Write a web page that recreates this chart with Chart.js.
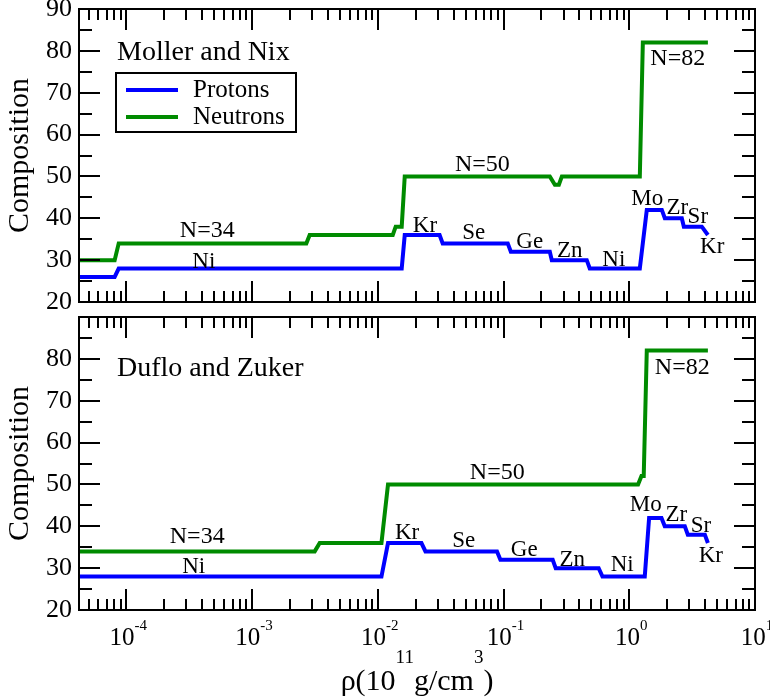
<!DOCTYPE html>
<html>
<head>
<meta charset="utf-8">
<script src="https://cdn.jsdelivr.net/npm/chart.js@4"></script>
<style>
  body { margin: 0; background: #fff; }
  #wrap { position: relative; width: 770px; height: 700px; }
  canvas { position: absolute; left: 0; }
  #topChart { top: 0; }
  #bottomChart { top: 310px; }
</style>
</head>
<body>
<div id="wrap">
  <canvas id="topChart" width="770" height="330"></canvas>
  <canvas id="bottomChart" width="770" height="390"></canvas>
</div>
<script>
const FONT = "'Liberation Serif', 'Times New Roman', serif";
const BLUE = "#0000ff";
const GREEN = "#008b00";

Chart.defaults.font.family = FONT;
Chart.defaults.color = "#000";

const xMin = 4.2e-5;
const xMax = 10;
const xExponents = ["-4", "-3", "-2", "-1", "0", "1"];

// Moller and Nix (top panel)
const mnProtonRho = [4.2e-5, 8.07e-5, 8.69e-5, 0.01549, 0.01637, 0.031, 0.0328, 0.108, 0.1143, 0.2333, 0.242, 0.459, 0.485, 1.213, 1.378, 1.815, 1.918, 2.618, 2.716, 3.776, 4.22];
const mnProtonZ = [26, 26, 28, 28, 36, 36, 34, 34, 32, 32, 30, 30, 28, 28, 42, 42, 40, 40, 38, 38, 36];
const mnNeutronRho = [4.2e-5, 8.07e-5, 8.69e-5, 0.0027, 0.00287, 0.01315, 0.01387, 0.01549, 0.01637, 0.2333, 0.256, 0.2754, 0.291, 1.213, 1.282, 4.22];
const mnNeutronN = [30, 30, 34, 34, 36, 36, 38, 38, 50, 50, 48, 48, 50, 50, 82, 82];

// Duflo and Zuker (bottom panel)
const dzProtonRho = [4.2e-5, 0.01069, 0.01205, 0.02223, 0.02393, 0.0887, 0.0944, 0.246, 0.26, 0.571, 0.612, 1.328, 1.438, 1.804, 1.916, 2.765, 2.923, 3.99, 4.22];
const dzProtonZ = [28, 28, 36, 36, 34, 34, 32, 32, 30, 30, 28, 28, 42, 42, 40, 40, 38, 38, 36];
const dzNeutronRho = [4.2e-5, 0.003148, 0.00345, 0.01069, 0.01205, 1.175, 1.25, 1.303, 1.378, 4.22];
const dzNeutronN = [34, 34, 36, 36, 50, 50, 52, 52, 82, 82];

// text notes: [text, rho, composition]
const mnNotes = [
  ["N=34", 4.4e-4, 37], ["Ni", 4.13e-4, 29.6], ["N=50", 0.0678, 52.7],
  ["Kr", 0.0237, 38.2], ["Se", 0.058, 36.5], ["Ge", 0.1614, 34.3],
  ["Zn", 0.336, 32.1], ["Ni", 0.753, 30], ["Mo", 1.39, 44.6],
  ["Zr", 2.41, 42.5], ["Sr", 3.51, 40.3], ["Kr", 4.57, 33.1], ["N=82", 2.43, 78.2]
];
const dzNotes = [
  ["N=34", 3.66e-4, 37.5], ["Ni", 3.43e-4, 30.3], ["N=50", 0.0891, 52.9],
  ["Kr", 0.0171, 38.5], ["Se", 0.0482, 36.4], ["Ge", 0.146, 34.4],
  ["Zn", 0.352, 32], ["Ni", 0.879, 30.7], ["Mo", 1.35, 45.1],
  ["Zr", 2.37, 42.7], ["Sr", 3.71, 40], ["Kr", 4.45, 32.8], ["N=82", 2.64, 77.8]
];

function toPoints(xs, ys) {
  return xs.map((x, i) => ({ x, y: ys[i] }));
}

function drawFrame(chart) {
  const { ctx, chartArea: a } = chart;
  const xs = chart.scales.x;
  const ys = chart.scales.y;
  ctx.save();
  ctx.strokeStyle = "#000";
  ctx.lineWidth = 2;
  ctx.strokeRect(a.left, a.top, a.right - a.left, a.bottom - a.top);
  ctx.beginPath();
  for (let e = -5; e <= 1; e++) {
    for (let m = 1; m <= 9; m++) {
      const v = m * Math.pow(10, e);
      if (v <= xMin || v >= xMax) continue;
      const px = Math.round(xs.getPixelForValue(v));
      const len = m === 1 ? 21 : 11;
      ctx.moveTo(px, a.bottom);
      ctx.lineTo(px, a.bottom - len);
      ctx.moveTo(px, a.top);
      ctx.lineTo(px, a.top + len);
    }
  }
  for (let v = 25; v < 90; v += 5) {
    const py = Math.round(ys.getPixelForValue(v));
    const len = v % 10 === 0 ? 21 : 13;
    ctx.moveTo(a.left, py);
    ctx.lineTo(a.left + len, py);
    ctx.moveTo(a.right, py);
    ctx.lineTo(a.right - len, py);
  }
  ctx.stroke();
  ctx.restore();
}

function drawNotes(chart, notes) {
  const { ctx } = chart;
  ctx.save();
  ctx.fillStyle = "#000";
  ctx.textAlign = "center";
  ctx.textBaseline = "middle";
  notes.forEach(([t, rx, ry]) => {
    ctx.font = (t.startsWith("N=") ? 24 : 23) + "px " + FONT;
    ctx.fillText(t, chart.scales.x.getPixelForValue(rx), chart.scales.y.getPixelForValue(ry));
  });
  ctx.restore();
}

// text pieces laid out left to right, centred on cx; each piece has its own baseline y
function drawPieces(ctx, pieces, cx) {
  let total = 0;
  const widths = pieces.map((p) => {
    ctx.font = p.size + "px " + FONT;
    const w = ctx.measureText(p.text).width;
    total += w;
    return w;
  });
  let x = cx - total / 2;
  ctx.textAlign = "left";
  ctx.textBaseline = "alphabetic";
  pieces.forEach((p, i) => {
    ctx.font = p.size + "px " + FONT;
    ctx.fillText(p.text, x, p.y);
    x += widths[i];
  });
}

function makePanel(canvasId, cfg) {
  const panelPlugin = {
    id: "panel_" + canvasId,
    afterDraw(chart) {
      const { ctx, chartArea: a } = chart;
      drawFrame(chart);
      drawNotes(chart, cfg.notes);

      ctx.save();
      ctx.fillStyle = "#000";
      ctx.font = "28px " + FONT;
      ctx.textAlign = "left";
      ctx.textBaseline = "middle";
      ctx.fillText(cfg.title, a.left + 38, a.top + cfg.titleOffset);

      if (cfg.legend) {
        const lx = a.left + 37;
        const ly = a.top + 64;
        ctx.lineWidth = 2;
        ctx.strokeStyle = "#000";
        ctx.strokeRect(lx, ly, 180, 59);
        ctx.lineWidth = 4;
        [["Protons", BLUE], ["Neutrons", GREEN]].forEach(([name, col], i) => {
          const yy = ly + 17 + i * 27;
          ctx.strokeStyle = col;
          ctx.beginPath();
          ctx.moveTo(lx + 10, yy);
          ctx.lineTo(lx + 62, yy);
          ctx.stroke();
          ctx.font = "25px " + FONT;
          ctx.fillText(name, lx + 77, yy);
        });
      }

      if (cfg.xLabels) {
        const base = a.bottom + 35;
        xExponents.forEach((ex) => {
          const px = chart.scales.x.getPixelForValue(Math.pow(10, Number(ex)));
          drawPieces(ctx, [
            { text: "10", size: 25, y: base },
            { text: ex, size: 15, y: base - 15 }
          ], px + 2);
        });
        const tb = a.bottom + 80;
        const sb = a.bottom + 53;
        drawPieces(ctx, [
          { text: "\u03c1(10", size: 30, y: tb },
          { text: "11", size: 19, y: sb },
          { text: "g/cm", size: 30, y: tb },
          { text: "3", size: 19, y: sb },
          { text: ")", size: 30, y: tb }
        ], (a.left + a.right) / 2);
      }
      ctx.restore();
    }
  };

  return new Chart(document.getElementById(canvasId), {
    type: "line",
    data: {
      datasets: [
        { label: "Protons", data: toPoints(cfg.pRho, cfg.pVal), borderColor: BLUE },
        { label: "Neutrons", data: toPoints(cfg.nRho, cfg.nVal), borderColor: GREEN }
      ]
    },
    options: {
      responsive: false,
      animation: false,
      devicePixelRatio: 1,
      layout: { padding: cfg.padding },
      elements: {
        line: { borderWidth: 4, tension: 0, borderCapStyle: "butt", borderJoinStyle: "miter" },
        point: { radius: 0 }
      },
      plugins: { legend: { display: false }, tooltip: { enabled: false } },
      scales: {
        x: {
          type: "logarithmic",
          min: xMin,
          max: xMax,
          display: false
        },
        y: {
          min: 20,
          max: 90,
          afterFit(s) {
            s.width = 79;
            s.paddingTop = 0;
            s.paddingBottom = 0;
          },
          grid: { display: false, drawTicks: false },
          border: { display: false },
          ticks: {
            stepSize: 10,
            padding: 7,
            color: "#000",
            font: { family: FONT, size: 26 },
            callback: (v) => (cfg.hide90 && v === 90 ? "" : String(v))
          },
          title: {
            display: true,
            text: "Composition",
            color: "#000",
            font: { family: FONT, size: 30 },
            padding: { top: 2, bottom: 0 }
          }
        }
      }
    },
    plugins: [panelPlugin]
  });
}

makePanel("topChart", {
  pRho: mnProtonRho, pVal: mnProtonZ, nRho: mnNeutronRho, nVal: mnNeutronN,
  notes: mnNotes, title: "Moller and Nix", titleOffset: 44, legend: true,
  padding: { top: 9, bottom: 28, left: 0, right: 15 }, hide90: false, xLabels: false
});

makePanel("bottomChart", {
  pRho: dzProtonRho, pVal: dzProtonZ, nRho: dzNeutronRho, nVal: dzNeutronN,
  notes: dzNotes, title: "Duflo and Zuker", titleOffset: 52, legend: false,
  padding: { top: 7, bottom: 90, left: 0, right: 15 }, hide90: true, xLabels: true
});
</script>
</body>
</html>
